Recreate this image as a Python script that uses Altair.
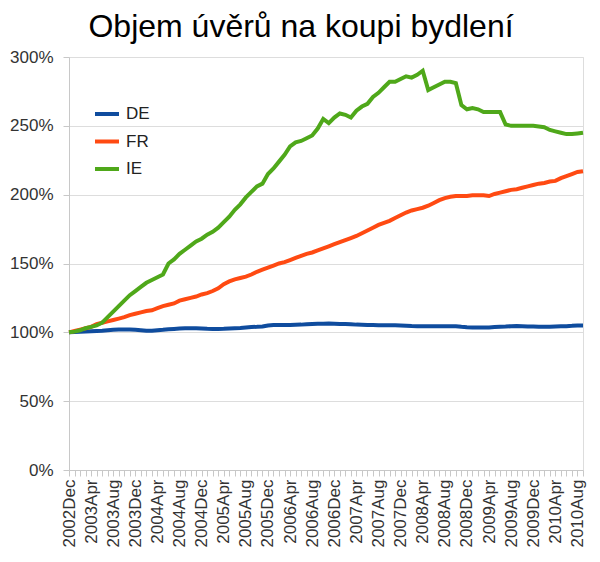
import altair as alt
import pandas as pd

series_names = ["DE", "FR", "IE"]
series_colors = ["#0f4c9e", "#ff4a12", "#4fa81a"]

# Monthly index from 2002Dec (0) to 2010Sep (93); values in % of 2002Dec level
de = [100, 100.2, 100.4, 100.6, 100.8, 101, 101.2, 101.5, 101.8, 102,
      102, 102, 101.8, 101.5, 101.2, 101.2, 101.5, 101.8, 102.2, 102.5,
      102.8, 103, 103, 103, 102.8, 102.6, 102.5, 102.5, 102.6, 102.8,
      103, 103.2, 103.5, 103.8, 104, 104.3, 105, 105.3, 105.3, 105.3,
      105.4, 105.5, 105.6, 105.8, 106, 106.2, 106.3, 106.4, 106.3, 106.1,
      106, 105.8, 105.6, 105.5, 105.4, 105.3, 105.2, 105.2, 105.2, 105.1,
      105, 104.8, 104.6, 104.5, 104.5, 104.5, 104.5, 104.5, 104.5, 104.5,
      104.4, 104, 103.7, 103.5, 103.5, 103.5, 103.6, 103.8, 104, 104.2,
      104.5, 104.6, 104.5, 104.3, 104.2, 104, 104, 104, 104.2, 104.4,
      104.5, 104.7, 105, 105]

fr = [100, 101, 102, 103, 104, 106, 107, 108, 109, 110,
      111, 112.5, 113.5, 114.5, 115.5, 116, 117.5, 119, 120, 121,
      123, 124, 125, 126, 127.5, 128.5, 130, 132, 135, 137,
      138.5, 139.5, 140.5, 142, 144, 145.5, 147, 148.5, 150, 151,
      152.5, 154, 155.5, 157, 158, 159.5, 161, 162.5, 164, 165.5,
      167, 168.5, 170, 172, 174, 176, 178, 179.5, 181, 183,
      185, 187, 188.5, 189.5, 190.5, 192, 194, 196, 197.5, 198.5,
      199, 199, 199, 199.5, 199.5, 199.5, 199, 200.5, 201.5, 202.5,
      203.5, 204, 205, 206, 207, 208, 208.5, 209.5, 210, 212,
      213.5, 215, 216.5, 217]

ie = [100, 100.5, 101.5, 103, 104, 105, 107, 111, 115, 119,
      123, 127, 130, 133, 136, 138, 140, 142, 150, 153,
      157, 160, 163, 166, 168, 171, 173, 176, 180, 184,
      189, 193, 198, 202, 206, 208, 215, 219, 224, 229,
      235, 238, 239, 241, 243, 248, 255, 252, 256, 259,
      258, 256, 261, 264, 266, 271, 274, 278, 282, 282,
      284, 286, 285, 287, 290, 276, 278, 280, 282, 282,
      281, 265, 262, 263, 262, 260, 260, 260, 260, 251,
      250, 250, 250, 250, 250, 249.5, 249, 247, 246, 245,
      244, 244, 244.5, 245]

y_ticks = [0, 50, 100, 150, 200, 250, 300]

rows = []
for name, vals in zip(series_names, [de, fr, ie]):
    for i, v in enumerate(vals):
        rows.append({"m": i, "value": v, "country": name})
df = pd.DataFrame(rows)

n_months = len(ie)
label_expr = ("datum.value % 4 == 0 ? timeFormat(datetime(2002, 11 + datum.value, 1), '%Y%b') : ''")

chart = alt.Chart(df).mark_line(strokeWidth=4).encode(
    x=alt.X("m:Q",
            scale=alt.Scale(domain=[0, n_months - 1], nice=False, zero=False),
            axis=alt.Axis(title=None, values=list(range(n_months)), labelExpr=label_expr,
                          labelAngle=270, labelAlign="right", labelBaseline="middle",
                          labelOverlap=False, labelFlush=False, labelPadding=3,
                          labelFontSize=17, labelFont="Liberation Sans", labelColor="#333333",
                          tickSize=6, tickColor="#c8c8c8", domainColor="#c8c8c8",
                          grid=False)),
    y=alt.Y("value:Q",
            scale=alt.Scale(domain=[0, 300], nice=False),
            axis=alt.Axis(title=None, values=y_ticks, labelExpr="datum.value + '%'",
                          labelFontSize=17, labelFont="Liberation Sans", labelColor="#333333",
                          labelPadding=10, tickSize=6, tickColor="#c8c8c8",
                          domainColor="#c8c8c8", gridColor="#dddddd")),
    color=alt.Color("country:N",
                    scale=alt.Scale(domain=series_names, range=series_colors),
                    legend=alt.Legend(title=None, orient="none", legendX=24, legendY=43,
                                      symbolType="stroke", symbolSize=576, symbolStrokeWidth=4,
                                      labelFontSize=17, labelFont="Liberation Sans",
                                      labelColor="#222222", labelOffset=5, rowPadding=5.5)),
).properties(
    width=514,
    height=413,
    title=alt.TitleParams("Objem úvěrů na koupi bydlení", font="Liberation Sans",
                          fontSize=32, fontWeight="normal", color="#000000",
                          anchor="middle", dx=-25, offset=4),
    autosize=alt.AutoSizeParams(type="none"),
    padding={"left": 61, "top": 49, "right": 9, "bottom": 84},
).configure_view(stroke="#dddddd")

chart.save("out.html", embed_options={"renderer": "svg", "actions": False})
